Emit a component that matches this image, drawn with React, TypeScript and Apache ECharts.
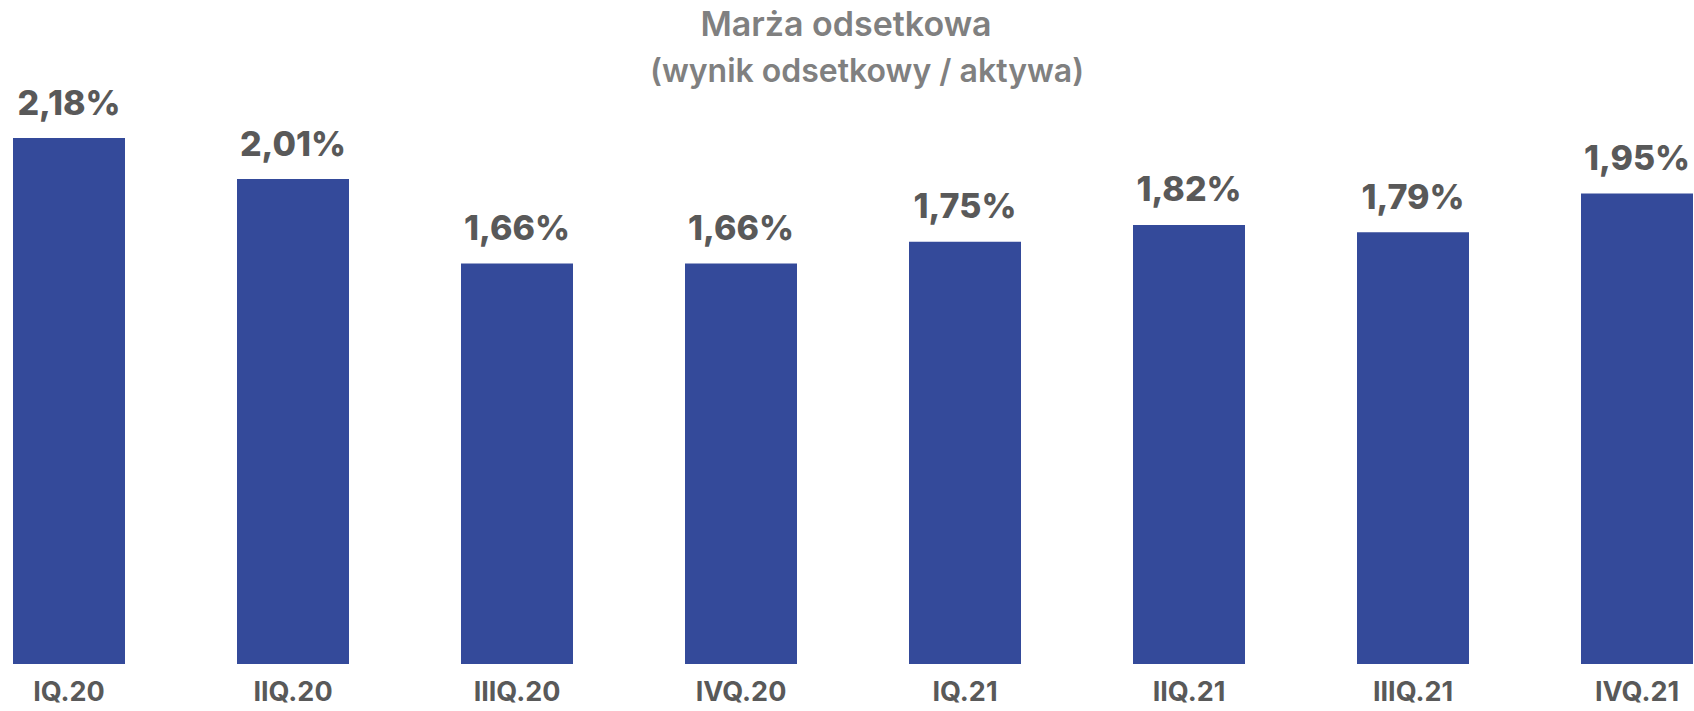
import React, { useEffect, useRef } from "react";
import * as echarts from "echarts";

const categories = ["IQ.20", "IIQ.20", "IIIQ.20", "IVQ.20", "IQ.21", "IIQ.21", "IIIQ.21", "IVQ.21"];
const values = [2.18, 2.01, 1.66, 1.66, 1.75, 1.82, 1.79, 1.95];
const titleText = "Marża odsetkowa";
const subtitleText = "(wynik odsetkowy / aktywa)";

const FONT = "Inter, 'Noto Sans', sans-serif";
const SHIFT = 43;

export default function App() {
  const ref = useRef<HTMLDivElement>(null);
  useEffect(() => {
    if (!ref.current) return;
    document.body.style.overflow = "hidden";
    const chart = echarts.init(ref.current, undefined, { renderer: "svg" });
    chart.setOption({
      animation: false,
      backgroundColor: "#ffffff",
      grid: { left: 0, right: 0, top: 85, bottom: 47, containLabel: false },
      graphic: [
        {
          type: "text",
          x: 846 + SHIFT,
          y: 23,
          style: {
            text: titleText,
            textAlign: "center",
            textVerticalAlign: "middle",
            fill: "#808080",
            font: `600 34px ${FONT}`,
          },
        },
        {
          type: "text",
          x: 867 + SHIFT,
          y: 70,
          style: {
            text: subtitleText,
            textAlign: "center",
            textVerticalAlign: "middle",
            fill: "#808080",
            font: `600 32px ${FONT}`,
          },
        },
      ],
      xAxis: {
        type: "category",
        data: categories,
        axisLine: { show: false },
        axisTick: { show: false },
        axisLabel: {
          margin: 14,
          color: "#595959",
          fontFamily: FONT,
          fontWeight: 700,
          fontSize: 27,
        },
      },
      yAxis: {
        type: "value",
        min: 0,
        max: 2.4,
        show: false,
        splitLine: { show: false },
      },
      series: [
        {
          type: "bar",
          data: values,
          barWidth: 112,
          itemStyle: { color: "#344A9A" },
          label: {
            show: true,
            position: "top",
            distance: 19,
            color: "#595959",
            fontFamily: FONT,
            fontWeight: 800,
            fontSize: 34,
            formatter: (p: any) => p.value.toFixed(2).replace(".", ",") + "%",
          },
        },
      ],
    });
    return () => chart.dispose();
  }, []);
  return (
    <div
      style={{ position: "absolute", left: 0, top: 0, width: 1694, height: 711, overflow: "hidden" }}
    >
      <div
        ref={ref}
        style={{ position: "absolute", left: -SHIFT, top: 0, width: 1792, height: 711 }}
      />
    </div>
  );
}
